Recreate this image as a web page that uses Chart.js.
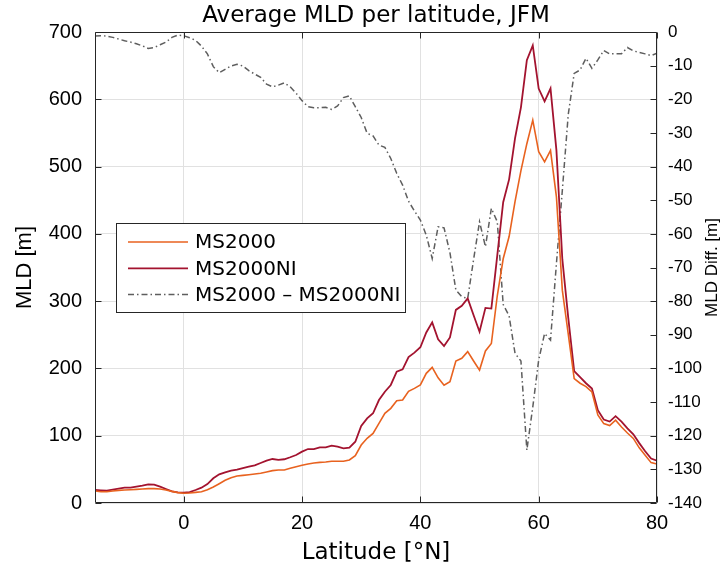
<!DOCTYPE html>
<html><head><meta charset="utf-8">
<script src="https://cdn.jsdelivr.net/npm/chart.js@4.4.0/dist/chart.umd.min.js"></script>
<style>html,body{margin:0;padding:0;background:#fff;}#wrap{width:724px;height:570px;}</style>
</head><body><div id="wrap"><canvas id="c" width="724" height="570"></canvas></div>
<script>
const latitudes = [-15,-14,-13,-12,-11,-10,-9,-8,-7,-6,-5,-4,-3,-2,-1,0,1,2,3,4,5,6,7,8,9,10,11,12,13,14,15,16,17,18,19,20,21,22,23,24,25,26,27,28,29,30,31,32,33,34,35,36,37,38,39,40,41,42,43,44,45,46,47,48,49,50,51,52,53,54,55,56,57,58,59,60,61,62,63,64,65,66,67,68,69,70,71,72,73,74,75,76,77,78,79,80];
const ms2000 = [17.8,16.8,16.8,17.8,18.8,19.3,19.8,20.3,20.8,21.3,21.3,20.8,19.3,17.3,15.4,14.4,14.9,15.8,16.8,19.8,23.8,28.7,33.7,37.6,40.1,41.1,42.1,43.1,44.1,46.1,48.1,49,49,51.5,54,56,58,59.4,60.4,61,62,62,62,63.9,70.4,86.2,96.1,103.5,118.4,133.2,140.7,152.1,153,166,170.4,175.4,192.7,201.6,186,175,180.3,211,215,225,211,197.5,226,237,308,363,396,448,494,534,569,522,507,524,455,316,251,185,178,173,165,131,118,115,123,113,104,96,82,71,60,58];
const ms2000ni = [19.3,18.8,18.3,19.8,21.3,22.8,22.8,24.3,25.8,27.7,27.2,24.3,20.8,17.3,15.8,15.4,16.3,19.3,22.8,28.2,36.7,42.6,45.6,48.1,49.5,52,54,56,59.4,62.9,65.4,64,65,68,71.3,76.3,80.2,80.2,82.7,82.7,85.2,83.7,81.2,82.2,91.1,114.4,125.8,133.3,153,165.4,175.4,195.2,198.7,217,223.5,231.5,253.5,268.5,243.3,233.3,246,287,293,304,279,254.5,290,289,368,447,481,542,588,658,680,616,597,616,524,362,275,196,187,178,170,138,124,121,129,121,111,102,89,77,66,63];
const mldDiff = [-1.2,-1.1,-1.2,-1.6,-2.1,-2.6,-3.0,-3.5,-4.1,-4.9,-4.6,-3.8,-3.0,-1.6,-0.9,-1.1,-1.7,-2.5,-4.2,-6.5,-10.3,-12.1,-11.1,-10.1,-9.6,-10.1,-11.5,-12.5,-13.5,-15.5,-16.3,-15.8,-15.1,-16.3,-18.2,-20.4,-22.2,-22.5,-22.5,-22.4,-23.0,-22.0,-19.5,-19.0,-22.2,-25.4,-30.1,-30.9,-33.6,-34.3,-37.6,-42.0,-45.5,-50.3,-53.2,-55.9,-60.4,-67.3,-57.9,-58.2,-65.6,-76.7,-78.7,-79.2,-67.6,-56.4,-63.8,-52.4,-56.4,-81,-84.4,-95.5,-97.8,-124.3,-111.5,-97.5,-89.6,-91.6,-68.8,-47,-24.5,-12.3,-11.3,-7.8,-10.8,-8.3,-5.5,-6.5,-6.5,-6.5,-4.6,-5.6,-6.1,-6.5,-7.0,-6.3];
const xTicks = [0,20,40,60,80];
const seriesNames = ['MS2000','MS2000NI','MS2000 \u2013 MS2000NI'];
const seriesColors = ['#E8621F','#A3132F','#5E5E5E'];
const diffDash = [6,3,1.5,3];
const chartTitle = 'Average MLD per latitude, JFM';
const rightTitle = 'MLD Diff. [m]';

const toXY = arr => arr.map((v,i)=>({x:latitudes[i], y:v}));

const framePlugin = {
  id:'frame',
  afterDatasetsDraw(chart){
    const {ctx, chartArea:a, scales} = chart;
    ctx.save();
    ctx.strokeStyle = '#262626';
    ctx.lineWidth = 1;
    const L = Math.round(a.left)+0.5, R = Math.round(a.right)-0.5, T = Math.round(a.top)+0.5, B = Math.round(a.bottom)-0.5;
    ctx.beginPath();
    ctx.rect(L, T, R-L, B-T);
    const tl = 6;
    scales.x.ticks.forEach(t=>{
      const p = Math.round(scales.x.getPixelForValue(t.value))+0.5;
      ctx.moveTo(p,B); ctx.lineTo(p,B-tl);
      ctx.moveTo(p,T); ctx.lineTo(p,T+tl);
    });
    scales.y.ticks.forEach(t=>{
      const p = Math.round(scales.y.getPixelForValue(t.value))+0.5;
      ctx.moveTo(L,p); ctx.lineTo(L+tl,p);
    });
    scales.y2.ticks.forEach(t=>{
      const p = Math.round(scales.y2.getPixelForValue(t.value))+0.5;
      ctx.moveTo(R,p); ctx.lineTo(R-tl,p);
    });
    ctx.stroke();
    // title centred over the plot area
    ctx.fillStyle = '#000';
    ctx.font = '23px "DejaVu Sans"';
    ctx.textAlign = 'center';
    ctx.textBaseline = 'middle';
    ctx.fillText(chartTitle, (a.left+a.right)/2, 16);
    // right axis title, reading bottom-to-top
    ctx.save();
    ctx.translate(712, (a.top+a.bottom)/2);
    ctx.rotate(-Math.PI/2);
    ctx.font = '17px "Liberation Sans"';
    ctx.fillText(rightTitle, 0, 0);
    ctx.restore();
    // legend box
    const bx = 116.5, by = 223.5, bw = 289, bh = 89;
    ctx.fillStyle = '#fff';
    ctx.fillRect(bx, by, bw, bh);
    ctx.strokeStyle = '#262626';
    ctx.lineWidth = 1;
    ctx.strokeRect(bx, by, bw, bh);
    ctx.font = '20px "DejaVu Sans"';
    ctx.textBaseline = 'middle';
    ctx.textAlign = 'left';
    chart.data.datasets.forEach((ds,i)=>{
      const y = 242 + i*26.3;
      ctx.beginPath();
      ctx.strokeStyle = ds.borderColor;
      ctx.lineWidth = ds.borderWidth;
      ctx.setLineDash(ds.borderDash || []);
      ctx.moveTo(128, y); ctx.lineTo(188, y);
      ctx.stroke();
      ctx.setLineDash([]);
      ctx.fillStyle = '#000';
      ctx.fillText(ds.label, 195, y+1);
    });
    ctx.restore();
  }
};

new Chart(document.getElementById('c'), {
  type:'line',
  data:{datasets:[
    {label:seriesNames[0], data:toXY(ms2000), borderColor:seriesColors[0], borderWidth:1.6, pointRadius:0, tension:0, yAxisID:'y', fill:false},
    {label:seriesNames[1], data:toXY(ms2000ni), borderColor:seriesColors[1], borderWidth:1.8, pointRadius:0, tension:0, yAxisID:'y', fill:false},
    {label:seriesNames[2], data:toXY(mldDiff), borderColor:seriesColors[2], borderWidth:1.5, borderDash:diffDash, pointRadius:0, tension:0, yAxisID:'y2', fill:false}
  ]},
  options:{
    responsive:false, animation:false,
    layout:{padding:{top:32,left:0,right:0,bottom:0}},
    plugins:{
      legend:{display:false}, tooltip:{enabled:false}, title:{display:false}
    },
    scales:{
      x:{type:'linear', min:-15, max:80,
        afterBuildTicks:s=>{s.ticks = xTicks.map(v=>({value:v}));},
        afterFit:s=>{s.height = 67;},
        grid:{color:'#e1e1e1', drawTicks:false, lineWidth:1},
        border:{display:false},
        ticks:{padding:8, color:'#000', font:{family:'Liberation Sans', size:20}},
        title:{display:true, text:'Latitude [°N]', color:'#000', font:{family:'DejaVu Sans', size:23}, padding:{top:0,bottom:3}}
      },
      y:{position:'left', min:0, max:700,
        afterFit:s=>{s.width = 95;},
        grid:{color:'#e1e1e1', drawTicks:false},
        border:{display:false},
        ticks:{stepSize:100, padding:13, color:'#000', font:{family:'Liberation Sans', size:20}},
        title:{display:true, text:'MLD [m]', color:'#000', font:{family:'Liberation Sans', size:22}, padding:{top:12,bottom:0}}
      },
      y2:{position:'right', min:-140, max:0,
        afterFit:s=>{s.width = 67;},
        grid:{drawOnChartArea:false, drawTicks:false},
        border:{display:false},
        ticks:{stepSize:10, padding:11, color:'#000', font:{family:'Liberation Sans', size:17}},
        title:{display:false}
      }
    }
  },
  plugins:[framePlugin]
});
</script></body></html>
